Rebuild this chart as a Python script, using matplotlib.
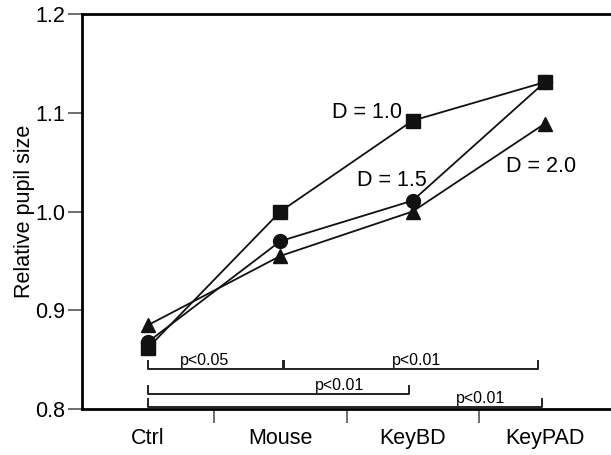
import matplotlib
matplotlib.use("Agg")
import matplotlib.pyplot as plt

plt.rcParams['font.family'] = ['Liberation Sans', 'DejaVu Sans']

categories = ['Ctrl', 'Mouse', 'KeyBD', 'KeyPAD']
d10 = [0.862, 1.000, 1.092, 1.131]
d15 = [0.868, 0.970, 1.011, 1.131]
d20 = [0.885, 0.955, 1.000, 1.089]

# significance brackets: (start idx, end idx, y level, label, label x)
brackets = [
    (0.0, 1.02, 0.8405, 'p<0.05', 0.43),
    (1.03, 2.95, 0.8405, 'p<0.01', 2.03),
    (0.0, 1.97, 0.815, 'p<0.01', 1.45),
    (0.0, 2.98, 0.802, 'p<0.01', 2.51),
]

fig = plt.figure(figsize=(6.11, 4.55), dpi=100)
ax = fig.add_axes([82 / 611, 1 - 409 / 455, 529 / 611, 395 / 455])

x = range(len(categories))
ax.plot(x, d10, color='#111', lw=1.3, marker='s', ms=10, zorder=3)
ax.plot(x, d15, color='#111', lw=1.3, marker='o', ms=10, zorder=3)
ax.plot(x, d20, color='#111', lw=1.3, marker='^', ms=10, zorder=3)

ax.text(2.0 - 0.08, 1.100, 'D = 1.0', fontsize=15.5, ha='right', va='center')
ax.text(1.84, 1.031, 'D = 1.5', fontsize=15.5, ha='center', va='center')
ax.text(2.97, 1.046, 'D = 2.0', fontsize=15.5, ha='center', va='center')

for x0, x1, yb, lab, lx in brackets:
    ax.plot([x0, x0, x1, x1], [yb + 0.008, yb, yb, yb + 0.008], color='#222', lw=1.4)
    ax.text(lx, yb + 0.0015, lab, fontsize=11.5, ha='center', va='bottom')

ax.set_xlim(-0.5, 3.5)
ax.set_ylim(0.8, 1.2)
ax.set_yticks([0.8, 0.9, 1.0, 1.1, 1.2])
ax.set_xticks([0.5, 1.5, 2.5])
ax.set_xticklabels([])
ax.set_xticks(list(x), minor=True)
ax.set_xticklabels(categories, minor=True, fontsize=15.5)
ax.tick_params(axis='x', which='minor', length=0, pad=14)
ax.tick_params(axis='x', which='major', length=10, width=1.2, color='#555')
ax.tick_params(axis='y', length=10, width=1.2, pad=2, labelsize=15.5, color='#555')

for s in ['left', 'top', 'bottom']:
    ax.spines[s].set_linewidth(2)
ax.spines['right'].set_visible(False)

ax.set_ylabel('Relative pupil size', fontsize=15.5, labelpad=0)

fig.savefig('out.png', dpi=100)
